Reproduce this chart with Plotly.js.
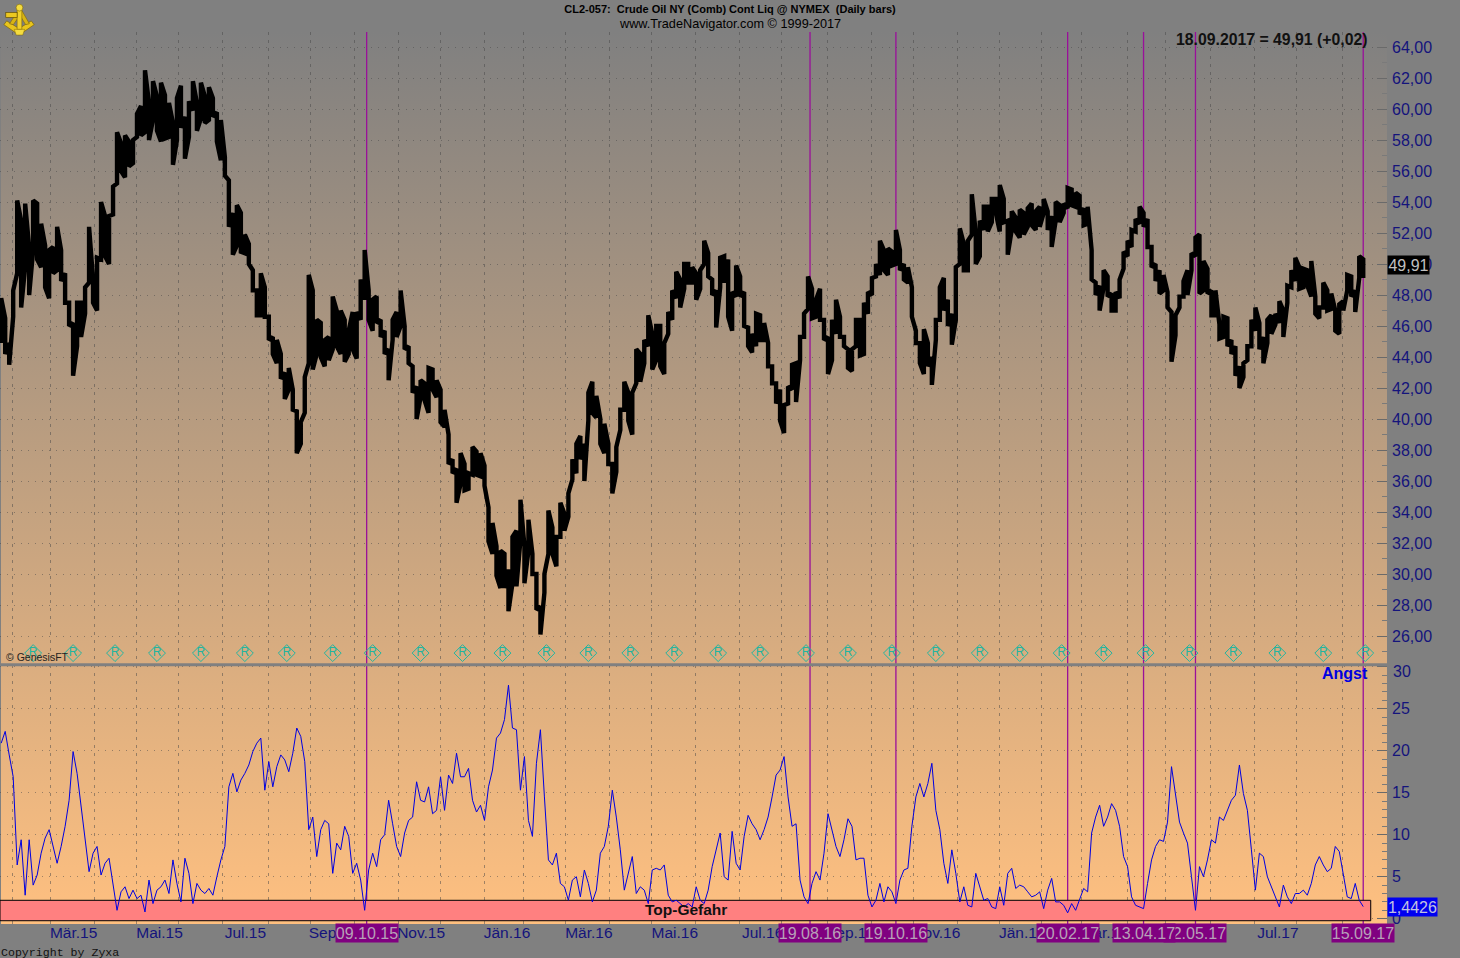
<!DOCTYPE html>
<html><head><meta charset="utf-8">
<script src="https://cdn.plot.ly/plotly-3.0.1.min.js"></script>
<style>
html,body{margin:0;padding:0;width:1460px;height:958px;overflow:hidden;
background:linear-gradient(#808080,#ffc080) 1px 32px / 1386px 892px no-repeat,#808080;}
#chart{width:1460px;height:958px;}
</style></head><body><div id="chart"></div>
<script>
// Trading calendar
const firstSession = '2015-01-26';
const closedDays = ['2015-04-03','2015-12-25','2016-01-01','2016-03-25','2016-12-26','2017-01-02','2017-04-14'];

// Every second daily bar of the crude oil contract
const priceHigh = [
47.8,46.5,44.9,48.3,54.1,52.8,53.9,51.1,54.1,53.9,52.6,51.2,50.9,51.1,52.4,50.9,49.4,47.5,46.2,47.5,47.5,48.5,52.4,49,50.4,54,53.1,53.1,55,58.5,57.8,58.3,57.9,58,59.7,60.2,62.5,60.4,61.8,60.8,61.7,60.9,60.4,59.1,60.7,61.5,59.5,60.5,61.8,60.4,61.7,60.8,61.4,60.7,59.8,59.3,56.9,55.4,53.3,53.8,53.3,
51.9,51.3,49.6,48.3,49.4,48.5,46.6,45.3,45.1,44.2,43,43.3,41.9,40.5,39.8,42.7,49.3,48.3,46.4,46.2,45.1,45.3,47.9,47,47,46.4,45.7,46.9,46.9,49,50.9,48.3,47.7,47.9,46.4,45.7,44.5,46.4,46.9,48.3,46,44.7,43.4,42.1,42.5,42.3,43.3,43.2,42.5,41.9,40.6,39,37.4,36.8,37.8,
37.1,36.5,38.2,37.9,37.8,37,34.3,33.3,31.8,31.5,31.3,30.3,32.4,32.8,34.8,31.8,33.5,31.3,30,27.9,30,34.1,33,32.4,34.6,33.9,35.2,37.4,38.4,38.9,38.4,41.7,42.4,41.5,40,39.7,38.4,37.1,38.2,40.6,42.4,41.7,41.7,44.5,44.2,45.1,
46.7,45.5,46,46,44.9,46.9,48.3,49.5,49,50,50,49.8,49.4,49.6,51.5,50.7,49,48.3,50.4,50.5,50.3,48.2,49.9,49.2,48.2,45.9,45.5,46.8,46.7,46.2,44.9,43.4,42.3,41.9,40.9,42.1,43.5,43.6,45.3,46.8,49.2,48.4,47.7,48.4,46.4,45.3,46.4,47.7,46.6,45.3,44.5,44.5,46.4,46.4,47.5,48.2,49.1,50,51.5,50.9,51,50.8,52.2,
50.9,50,49.8,48.5,45.7,44.9,45.8,44.9,44,46.4,48.5,49.1,47.7,46.8,49.8,52.3,51.3,51.5,54.5,52,52.8,53.7,53.7,54.2,54.2,55.1,54.2,52.8,53.4,53,53.5,53.3,53.6,53.9,53.4,53.7,54.2,53.4,53.1,54,53.8,53.9,54.9,54.8,54.6,54.4,53.6,53.7,50.9,48.8,48.6,49.6,49.2,48.1,48.2,49,
50.8,51.5,52.2,52.9,53.7,53.3,52.9,51.1,50,49.6,49.3,48.2,46.9,46.7,47.9,48.9,49.6,50.7,51.7,51.9,50.2,49.7,48.3,48.3,46.1,46.6,46.5,45.1,44.7,43.4,43.6,44.7,46.4,47.2,46.2,45.3,46.4,46.7,46.8,47.6,47,48.6,49.6,50.4,49.8,49.7,49.6,50.2,47.9,47.2,48.8,48.3,48.1,47,47.4,47.6,49.3,49.2,48.3,50.5,50.3];
const priceLow = [
44.9,44.2,43.5,46.6,49.4,47.2,49.8,48,50.9,50.3,49.8,48.5,47.8,49.4,49.6,48.9,47.5,46,42.8,44.7,45.3,46.8,48.8,47.5,47,50.3,50.5,50,53.2,55.2,56,55.6,56.3,56.5,58.2,58.3,58.5,58,59.3,58.6,57.9,58.1,58.2,56.4,58,58.8,56.8,58.2,59.9,58.6,59.4,59.1,59.3,59.5,57.9,56.7,55.7,52.4,50.6,51.2,50.8,
50.7,50,48.3,46.7,46.7,46.6,45.1,44.2,43.6,42.6,41.3,41.9,40.6,37.8,38.4,40.4,43.6,43.2,44.2,44,43.4,43.8,44.5,44.7,44.2,43.7,44.2,44.5,43.9,46.4,47.7,46.4,45.7,46.2,45.3,44.2,42.5,45.1,45.3,46,44.5,43.6,41.7,40,41.4,41.2,40.4,41.9,41.4,39.8,39.5,37.1,36.5,34.6,35.8,
35.4,35.5,36.4,36.4,36.3,35.7,32.1,31.3,29.9,29.1,29.1,27.6,29.4,29.2,32.2,29.4,31.5,30,27.7,26.1,28.8,31.3,31.3,30.5,32.4,32.8,33.7,36.1,36.5,37.4,36,39.9,40.4,40.1,38.4,37.8,37.1,35.2,36.6,39.3,40.6,39.9,39,42.3,42.4,43.6,
44.7,43.2,43.8,43.4,42.9,45.5,46.4,47.8,47.2,48.4,48.8,48.8,47.7,48.4,50,49.2,48,45.9,48.5,48.8,46.6,45.7,47.9,47.9,46,44.7,44.3,44.7,45.1,45.1,43.4,42.3,41,39.9,39.1,41,41.9,41.1,43.8,45.3,47.1,46.5,46.6,46.4,45.1,42.9,43.8,45.5,45.3,44.7,43.3,43.1,44.7,44.1,44.2,46.8,48,49.2,49.3,49.6,49.3,49.9,50,
49.6,49,48.8,46.6,44.9,43.6,42.9,43.4,42.2,45.1,46.4,47,46,44.8,46.4,50,49.6,49.6,51.9,50,50.5,52.2,52.1,52.7,53.3,52.1,52.7,50.6,52.2,52.1,51.7,51.9,52.4,52.5,52.2,52.4,53.3,52.2,51.1,52.8,52.7,53.3,53.6,53.8,53.7,53.2,52.5,52.6,49,48,47,48.5,47.9,47,47,47.8,
49.7,50.5,51.1,52.1,52.6,52.4,51.1,49.8,48.9,48.1,48.3,47.2,43.7,45.4,47.2,47.9,48,49.6,50.5,48.1,48.3,48.1,46.7,46.7,45.2,45.3,44.7,44.2,42.8,42,42.7,43.8,44.7,45.7,44.5,43.6,44.9,45.5,46.1,46.2,45.3,47.5,48.5,48.9,48.4,48.5,48.6,47.9,46.8,46.5,47.2,47,47.1,45.7,45.5,47,48.3,47.9,46.9,49.1,49.1];

// "Angst" indicator at the same sessions
const angst = [
20.9,22.3,19.5,16.9,6.4,9.4,2.8,9.4,4,5.2,7.8,9.6,10.6,8.6,6.6,8.6,11,14.1,19.9,17.3,13.3,9,5.6,7.8,8.6,5.2,6.6,7.2,4.2,1,3.2,3.8,2.4,3.4,2.4,2.8,.8,4.6,1.8,3.4,3.8,4.6,3,7,4.2,2,7.2,5.4,1.8,4.2,3.4,3,3.6,2.8,5,7,8.6,15.7,17.3,15.1,16.5,17.3,18.3,19.9,20.9,21.5,15.3,18.7,15.7,18.1,19.5,18.9,17.5,19.7,22.7,21.7,18.7,10.6,12.1,7.4,10.6,11.7,11.3,5.4,9,8.2,11,9.8,5.4,6.6,4.6,1,5.8,7.8,6.2,9.4,10,14.1,11.3,8.6,7.4,10.2,11.7,12.1,16.3,14.1,13.9,15.7,12.5,12.9,16.9,12.9,17.1,16.1,19.7,16.9,16.9,17.9,14.1,12.7,
13.5,11.7,15.7,17.7,21.5,22.1,23.7,27.8,22.7,22.5,15.3,19.3,11.7,9.8,18.5,22.5,14.5,7,6.4,7.8,4.2,3.8,2.2,4.6,5,2.6,5.8,4.2,2,3.4,7.8,8.6,11,15.3,12.1,8.2,3.4,5.4,7.4,3,3.8,3.4,1.8,5.8,6,5.8,6.4,2.8,2,2.2,1.8,1.4,1.8,1.4,3.8,2.2,1.8,3.4,6.2,8.2,10.2,5,4.6,10.4,6.6,5.8,9.8,12.3,11.3,10.6,9.4,10.6,12.1,14.5,17.1,17.7,19.3,14.5,11,11.3,4.6,2.6,1.8,4.2,5.6,4.6,7.8,12.5,10.6,8.6,7.4,9.4,11.9,11,7,7.2,7.2,2.8,1.4,2.2,4.2,2,3.8,3.2,1.8,4.6,5.8,6,11,14.5,16.1,14.5,16.1,18.5,12.9,10.6,6.6,4.2,8.2,5.4,2,3.8,1.6,1.4,5.4,
3.8,2.2,2.4,1.4,1.2,3.8,1.6,5.4,6,3.6,4,3.8,3.2,2.6,2.8,3.2,1.2,3.4,4.8,2,2,1.6,.7,1.8,1,2.2,3.6,3.2,10.2,12.1,13.5,11,12.1,13.7,12.9,11,7.4,6.2,2.6,1.6,1.4,1.2,4.2,7,8.6,9.4,9.2,11.5,18.1,14.7,11.5,10.2,9,5,1,6.2,5,7,9.4,9,12.1,11.7,12.9,14.1,14.7,18.3,14.9,12.9,8.2,3.4,7.8,7.4,5,3.8,2.8,1.4,4,2.6,1.8,3,3,3.4,2.8,4.2,6.4,7.4,6.4,5.6,6,8.6,8,5.4,2.6,2.4,4.2,2.2,1.44];

// Axis ticks and labels
const monthStarts = ['2015-02-03','2015-03-02','2015-04-01','2015-05-01','2015-06-01','2015-07-01','2015-08-03','2015-09-01','2015-10-01','2015-11-02','2015-12-01','2016-01-04','2016-02-01','2016-03-01','2016-04-01','2016-05-02','2016-06-01','2016-07-01','2016-08-01','2016-09-01','2016-10-03','2016-11-01','2016-12-01','2017-01-03','2017-02-01','2017-03-01','2017-04-03','2017-05-01','2017-06-01','2017-07-03','2017-08-01','2017-09-01'];
const monthLabels = ['','Mär.15','','Mai.15','','Jul.15','','Sep.15','','Nov.15','','Jän.16','','Mär.16','','Mai.16','','Jul.16','','Sep.16','','Nov.16','','Jän.17','','Mär.17','','Mai.17','','Jul.17','','Sep.17'];
const priceTicks = [26,28,30,32,34,36,38,40,42,44,46,48,50,52,54,56,58,60,62,64];
const priceTickLabels = ['26,00','28,00','30,00','32,00','34,00','36,00','38,00','40,00','42,00','44,00','46,00','48,00','50,00','52,00','54,00','56,00','58,00','60,00','62,00','64,00'];
const angstTicks = [0,5,10,15,20,25,30];
const angstTickLabels = ['0','5','10','15','20','25',''];

// Events
const signalDates = ['2015-10-09','2016-08-19','2016-10-19','2017-02-20','2017-05-22','2017-04-13','2017-09-15'];
const signalLabels = ['09.10.15','19.08.16','19.10.16','20.02.17','22.05.17','13.04.17','15.09.17'];
const rollDates = ['2015-02-17','2015-03-17','2015-04-16','2015-05-15','2015-06-16','2015-07-16','2015-08-14','2015-09-16','2015-10-14','2015-11-17','2015-12-16','2016-01-15','2016-02-16','2016-03-16','2016-04-15','2016-05-17','2016-06-16','2016-07-15','2016-08-17','2016-09-15','2016-10-17','2016-11-16','2016-12-16','2017-01-17','2017-02-15','2017-03-16','2017-04-17','2017-05-17','2017-06-16','2017-07-18','2017-08-18','2017-09-18'];

const lastPrice = 49.91;
const lastAngst = 1.44;
const dangerTop = 2.19, dangerBottom = -0.24;

// Sessions: weekdays without closed days, every second one has a sampled bar
const sessions = [];
for (let d = new Date(firstSession + 'T00:00:00Z'); sessions.length < priceHigh.length * 2; d = new Date(d.getTime() + 864e5)) {
  const iso = d.toISOString().slice(0, 10), wd = d.getUTCDay();
  if (wd !== 0 && wd !== 6 && !closedDays.includes(iso)) sessions.push(iso);
}
const BAR_TIME = ' 06:00';
const sampled = priceHigh.map((_, i) => sessions[i * 2] + BAR_TIME);

// One continuous stroke that runs through each bar's low and high
const barX = [], barY = [];
let penAt = priceLow[0];
priceHigh.forEach((h, i) => {
  const lo = priceLow[i];
  const first = Math.abs(penAt - lo) <= Math.abs(penAt - h) ? lo : h;
  const second = first === lo ? h : lo;
  barX.push(sampled[i], sampled[i]);
  barY.push(first, second);
  penAt = second;
});

const W = 1460, H = 958;
const px = v => v / W, py = v => 1 - v / H;
const PLOT_R = 1387;
const FONT = 'Liberation Sans, Arial, sans-serif';
const TICKBLUE = '#14147c';
const GRID = 'rgba(70,70,70,0.5)';

const logo = 'data:image/svg+xml,' + encodeURIComponent(
 '<svg xmlns="http://www.w3.org/2000/svg" width="36" height="36" viewBox="0 0 36 36">' +
 '<path d="M2 24 L18 35 L34 24 L31 20 L18 28 L5 20Z" fill="#e8c41c" stroke="#7a6206" stroke-width=".7"/>' +
 '<path d="M8 23 L17 9 h4 L29 23 L25 24 L19 14 L12 24Z" fill="#d8b414" stroke="#7a6206" stroke-width=".6"/>' +
 '<path d="M16 7 h5 v22 h-5z" fill="#f0d02c" stroke="#7a6206" stroke-width=".6"/>' +
 '<circle cx="18.5" cy="6" r="3.6" fill="#f4dc40" stroke="#7a6206" stroke-width=".6"/>' +
 '<rect x="4" y="11" width="12" height="5.5" fill="#ecc820" stroke="#5a4804" stroke-width=".7"/>' +
 '<path d="M13 29 h11 l-2 6 h-7z" fill="#f4dc40" stroke="#7a6206" stroke-width=".5"/></svg>');

const traces = [
  {type:'scatter', mode:'lines', x:barX, y:barY, xaxis:'x', yaxis:'y',
   line:{color:'#000', width:4.4}, hoverinfo:'skip', name:'Crude Oil'},
  {type:'scatter', mode:'markers+text', x:rollDates.map(d => d + BAR_TIME), y:rollDates.map(() => 24.9), xaxis:'x', yaxis:'y',
   text:rollDates.map(() => 'R'), textposition:'middle center', textfont:{family:FONT, size:12, color:'#22b5a0'},
   marker:{symbol:'diamond-open', size:13, color:'#22b5a0', line:{width:1, color:'#22b5a0'}}, hoverinfo:'skip', name:'Roll'},
  {type:'scatter', mode:'lines', x:sampled, y:angst, xaxis:'x', yaxis:'y2',
   line:{color:'#0000e0', width:1}, hoverinfo:'skip', name:'Angst'}
];

const shapes = signalDates.map(d => ({type:'line', xref:'x', yref:'paper', x0:d + BAR_TIME, x1:d + BAR_TIME, y0:py(924), y1:py(32),
  line:{color:'#9a109a', width:1.3}, layer:'below'}));
shapes.push({type:'rect', xref:'x', yref:'y2', x0:'2015-01-23 15:36', x1:'2017-09-21 00:00', y0:dangerBottom, y1:dangerTop,
  fillcolor:'#ff8080', line:{color:'#000', width:1}, layer:'between'});
shapes.push({type:'line', xref:'paper', yref:'paper', x0:0, x1:px(PLOT_R), y0:py(664.7), y1:py(664.7),
  line:{color:'#808080', width:3}, layer:'above'});

const note = (text, x, y, extra) => Object.assign({text, x, y, xref:'paper', yref:'paper', showarrow:false,
  xanchor:'left', yanchor:'middle', font:{family:FONT, size:12, color:'#000'}, borderpad:0}, extra || {});

const annotations = [
  note('www.TradeNavigator.com © 1999-2017', px(730), py(24), {xanchor:'center', font:{family:FONT, size:12.7, color:'#000'}}),
  note('<b>18.09.2017 = 49,91 (+0,02)</b>', px(1367.6), py(39), {xanchor:'right', font:{family:FONT, size:15.8, color:'#111'}}),
  note('© GenesisFT', px(5), py(657), {font:{family:FONT, size:10.5, color:'#222'}}),
  note('<b>Angst</b>', px(1369), py(673), {xanchor:'right', font:{family:FONT, size:16, color:'#0000e0'}}),
  note('30', px(1392), py(671.7), {font:{family:FONT, size:16, color:TICKBLUE}}),
  {text:'<b>Top-Gefahr</b>', x:'2016-05-25', y:1.1, xref:'x', yref:'y2', showarrow:false, xanchor:'center', yanchor:'middle', font:{family:FONT, size:15.5, color:'#111'}},
  note('Copyright by Zyxa', 0, py(952), {font:{family:'Liberation Mono, Courier New, monospace', size:11.6, color:'#111'}}),
  {text:'49,91', x:px(PLOT_R), y:lastPrice, xref:'paper', yref:'y', showarrow:false, xanchor:'left', yanchor:'middle', width:41, height:18, align:'center',
   bgcolor:'#000', font:{family:FONT, size:16, color:'#c0c0c0'}, borderpad:0},
  {text:'1,4426', x:px(PLOT_R), y:lastAngst, xref:'paper', yref:'y2', showarrow:false, xanchor:'left', yanchor:'middle', width:49, height:18, align:'center',
   bgcolor:'#0000f0', font:{family:FONT, size:16, color:'#c0c0e0'}, borderpad:0}
];
signalDates.forEach((d, i) => annotations.push({text:signalLabels[i], x:d + BAR_TIME, y:py(932.5), xref:'x', yref:'paper', showarrow:false,
  xanchor:'center', yanchor:'middle', width:62, height:18, align:'center', bgcolor:'#800080', borderpad:0,
  font:{family:FONT, size:16, color:'#b8a0b8'}}));

const layout = {
  width:W, height:H, margin:{l:0, r:0, t:0, b:0}, showlegend:false,
  paper_bgcolor:'rgba(0,0,0,0)', plot_bgcolor:'rgba(0,0,0,0)',
  font:{family:FONT},
  title:{text:'<b>CL2-057:\u00a0 Crude Oil NY (Comb) Cont Liq @ NYMEX\u00a0 (Daily bars)</b>', x:0.5, xanchor:'center', xref:'paper', y:py(9), yanchor:'middle',
         font:{family:FONT, size:11, color:'#000'}},
  xaxis:{type:'date', domain:[0, px(PLOT_R)], anchor:'y2',
    range:['2015-01-23 15:36','2017-10-03 03:36'],
    rangebreaks:[{bounds:['sat','mon']},{values:closedDays}],
    tickmode:'array', tickvals:monthStarts, ticktext:monthLabels, tickangle:0, ticks:'', ticklabelshift:23, ticklabelstandoff:-3,
    tickfont:{family:FONT, size:15.5, color:TICKBLUE},
    showgrid:true, gridcolor:GRID, griddash:'3px,5px', gridwidth:1, zeroline:false, showline:false},
  yaxis:{domain:[py(664.7), py(32)], range:[24.15,64.97], side:'right', anchor:'x',
    tickmode:'array', tickvals:priceTicks, ticktext:priceTickLabels, ticks:'inside', ticklen:10, tickcolor:'#6a6a6a',
    minor:{dtick:1, tick0:0, ticks:'inside', ticklen:5, tickcolor:'#7a7a7a', showgrid:false},
    ticklabelstandoff:4, tickfont:{family:FONT, size:16, color:TICKBLUE},
    showgrid:true, gridcolor:GRID, griddash:'1px,6px', zeroline:false, showline:false},
  yaxis2:{domain:[py(924), py(664.7)], range:[-0.63,30.24], side:'right', anchor:'x',
    tickmode:'array', tickvals:angstTicks, ticktext:angstTickLabels, ticks:'inside', ticklen:10, tickcolor:'#6a6a6a',
    minor:{dtick:1, tick0:0, ticks:'inside', ticklen:5, tickcolor:'#7a7a7a', showgrid:false},
    ticklabelstandoff:4, tickfont:{family:FONT, size:16, color:TICKBLUE},
    showgrid:true, gridcolor:GRID, griddash:'1px,6px', zeroline:false, showline:false},
  shapes, annotations,
  images:[{source:logo, xref:'paper', yref:'paper', x:px(2), y:py(2), sizex:px(34), sizey:34/H, xanchor:'left', yanchor:'top', sizing:'stretch', layer:'above'}]
};
Plotly.newPlot('chart', traces, layout, {displayModeBar:false, responsive:false});
</script></body></html>
